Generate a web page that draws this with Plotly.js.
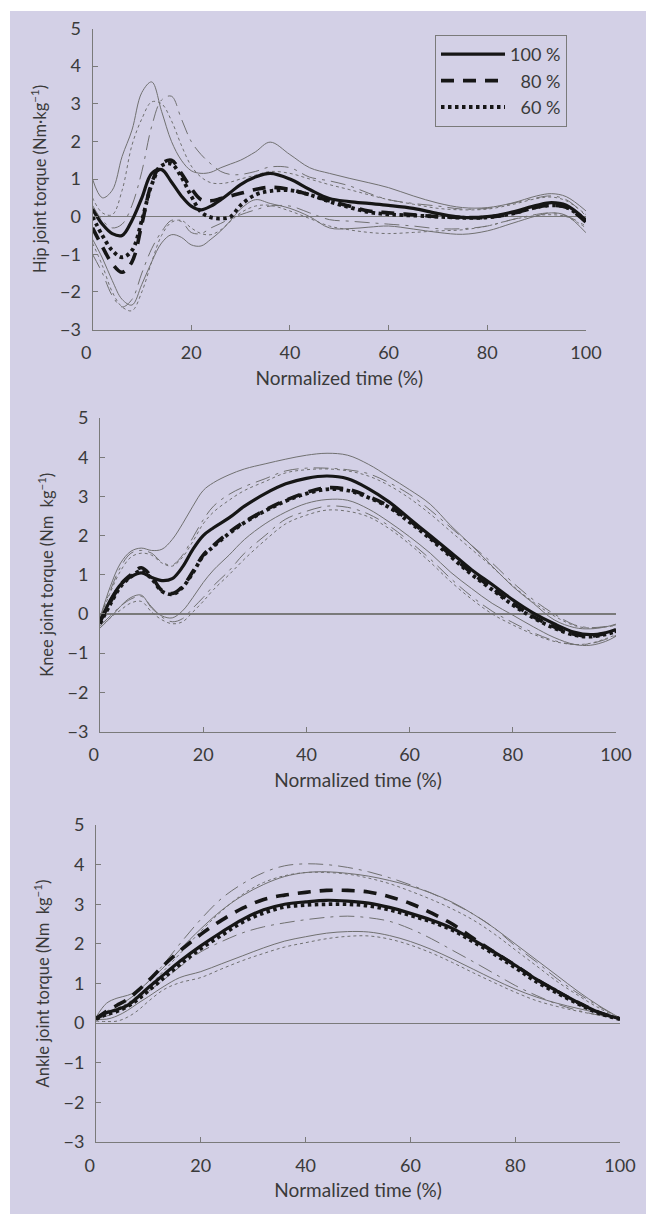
<!DOCTYPE html>
<html>
<head>
<meta charset="utf-8">
<script src="https://cdn.plot.ly/plotly-3.0.1.min.js"></script>
<style>
html,body{margin:0;padding:0;background:#fff;}
#chart{width:646px;height:1214px;}
</style>
</head>
<body>
<div id="chart"></div>
<script>
// ---------- DATA ----------
var legendNames = ['100 %', '\u200780 %', '\u200760 %'];
var xTickVals = [0, 20, 40, 60, 80, 100];
var xTickText = ['0\u2007\u2009', '20', '40', '60', '80', '100'];
var yTickVals = [-3, -2, -1, 0, 1, 2, 3, 4, 5];

// Hip joint torque
var hipX = [0,2,4,6,8,10,12,14,16,18,20,22,24,26,28,30,33,36,40,44,48,52,56,60,65,70,75,80,85,90,93,96,100];
var hip100 = [0.2,-0.2,-0.45,-0.5,-0.1,0.5,1.15,1.25,0.92,0.55,0.28,0.18,0.28,0.45,0.65,0.85,1.05,1.15,1.0,0.72,0.48,0.4,0.35,0.3,0.22,0.08,-0.02,0.0,0.12,0.3,0.37,0.3,-0.1];
var hip80  = [-0.3,-0.8,-1.25,-1.48,-1.2,-0.2,0.9,1.4,1.5,1.15,0.75,0.45,0.42,0.48,0.55,0.62,0.72,0.78,0.72,0.58,0.42,0.28,0.15,0.1,0.05,0.0,-0.02,-0.02,0.08,0.25,0.3,0.25,-0.15];
var hip60  = [0.0,-0.5,-0.9,-1.08,-0.9,-0.1,0.85,1.35,1.4,1.05,0.55,0.12,-0.02,-0.05,0.0,0.3,0.58,0.68,0.7,0.58,0.4,0.25,0.12,0.06,0.03,0.0,-0.03,-0.02,0.08,0.25,0.3,0.25,-0.1];
var hip100Up = [1.0,0.5,0.7,1.6,2.3,3.3,3.58,2.8,2.0,1.5,1.22,1.15,1.18,1.3,1.4,1.5,1.72,1.98,1.65,1.3,1.15,1.02,0.9,0.77,0.55,0.36,0.24,0.24,0.36,0.55,0.61,0.53,0.15];
var hip100Lo = [-0.6,-1.1,-1.7,-2.2,-2.35,-1.8,-1.2,-0.7,-0.48,-0.55,-0.75,-0.78,-0.6,-0.38,-0.1,0.2,0.45,0.35,0.22,0.0,-0.3,-0.32,-0.28,-0.25,-0.33,-0.42,-0.47,-0.38,-0.18,0.02,0.1,0.03,-0.43];
var hip80Up  = [0.3,-0.1,-0.3,-0.2,0.3,1.2,2.4,3.1,3.2,2.6,2.0,1.65,1.4,1.2,1.12,1.12,1.2,1.32,1.3,1.05,0.95,0.82,0.62,0.45,0.35,0.28,0.2,0.22,0.35,0.5,0.55,0.45,0.02];
var hip80Lo  = [-1.0,-1.5,-2.1,-2.4,-2.2,-1.5,-0.85,-0.4,-0.1,-0.13,-0.42,-0.45,-0.3,-0.18,-0.05,0.05,0.18,0.28,0.28,0.1,-0.08,-0.12,-0.16,-0.2,-0.25,-0.32,-0.32,-0.25,-0.08,0.06,0.1,0.02,-0.25];
var hip60Up  = [0.5,0.1,0.05,0.7,1.9,2.6,3.05,3.0,2.55,1.9,1.35,1.05,0.9,0.88,0.92,1.0,1.1,1.2,1.15,1.0,0.85,0.72,0.58,0.45,0.33,0.22,0.18,0.2,0.32,0.48,0.52,0.42,0.05];
var hip60Lo  = [-0.7,-1.3,-2.0,-2.4,-2.5,-2.0,-1.2,-0.5,-0.15,-0.1,-0.3,-0.45,-0.48,-0.35,-0.12,0.1,0.28,0.3,0.15,-0.05,-0.25,-0.35,-0.42,-0.45,-0.42,-0.38,-0.35,-0.25,-0.08,0.03,0.05,0.0,-0.3];

// Knee joint torque
var kneeX = [0,2,4,6,8,10,12,14,16,18,20,22,25,28,32,36,40,44,48,52,56,60,64,68,72,76,80,84,88,92,95,98,100];
var knee100 = [-0.2,0.35,0.75,0.95,1.05,0.93,0.85,0.9,1.2,1.65,2.0,2.2,2.45,2.75,3.07,3.32,3.46,3.52,3.45,3.2,2.86,2.43,2.0,1.57,1.13,0.75,0.36,0.02,-0.25,-0.47,-0.53,-0.48,-0.4];
var knee80  = [-0.2,0.3,0.75,1.0,1.18,0.95,0.6,0.52,0.7,1.08,1.5,1.75,2.08,2.35,2.65,2.9,3.1,3.22,3.18,3.0,2.75,2.38,1.96,1.5,1.05,0.66,0.27,-0.07,-0.33,-0.52,-0.57,-0.5,-0.44];
var knee60  = [-0.25,0.25,0.7,0.95,1.1,0.9,0.58,0.5,0.68,1.05,1.48,1.72,2.05,2.33,2.63,2.88,3.07,3.18,3.15,2.97,2.72,2.34,1.92,1.46,1.01,0.62,0.23,-0.1,-0.36,-0.54,-0.58,-0.52,-0.45];
var knee100Up = [-0.1,0.7,1.3,1.6,1.68,1.62,1.65,1.9,2.3,2.75,3.15,3.35,3.55,3.7,3.83,3.95,4.05,4.1,4.05,3.82,3.5,3.17,2.8,2.25,1.75,1.22,0.7,0.27,-0.15,-0.35,-0.38,-0.33,-0.26];
var knee100Lo = [-0.36,-0.1,0.2,0.42,0.48,0.15,-0.05,-0.1,0.08,0.42,0.8,1.12,1.5,1.9,2.3,2.6,2.82,2.92,2.9,2.68,2.35,1.97,1.55,1.06,0.65,0.27,-0.03,-0.33,-0.6,-0.78,-0.8,-0.7,-0.57];
var knee80Up  = [-0.1,0.6,1.2,1.55,1.62,1.55,1.32,1.25,1.5,1.95,2.4,2.75,3.05,3.25,3.45,3.65,3.72,3.72,3.68,3.58,3.35,3.05,2.65,2.2,1.75,1.3,0.8,0.36,0.0,-0.28,-0.35,-0.32,-0.28];
var knee80Lo  = [-0.3,-0.05,0.2,0.38,0.45,0.18,-0.08,-0.2,-0.12,0.15,0.42,0.72,1.1,1.55,2.0,2.42,2.62,2.75,2.72,2.55,2.25,1.85,1.4,0.9,0.45,0.07,-0.22,-0.48,-0.68,-0.78,-0.76,-0.65,-0.55];
var knee60Up  = [-0.12,0.55,1.1,1.45,1.55,1.5,1.3,1.22,1.45,1.85,2.3,2.6,2.9,3.15,3.38,3.6,3.68,3.7,3.65,3.52,3.28,2.95,2.55,2.1,1.65,1.2,0.72,0.3,-0.05,-0.3,-0.36,-0.33,-0.3];
var knee60Lo  = [-0.35,-0.1,0.1,0.28,0.32,0.05,-0.15,-0.25,-0.2,0.05,0.32,0.62,1.0,1.4,1.88,2.3,2.52,2.65,2.62,2.48,2.18,1.78,1.32,0.82,0.38,0.0,-0.28,-0.52,-0.7,-0.78,-0.75,-0.63,-0.53];

// Ankle joint torque
var ankleX = [0,2,4,6,8,10,13,16,20,24,28,32,36,40,44,48,52,56,60,64,68,72,76,80,84,88,92,96,100];
var ankle100 = [0.11,0.26,0.34,0.45,0.66,0.9,1.23,1.56,1.95,2.3,2.62,2.86,3.0,3.06,3.1,3.08,3.03,2.92,2.77,2.6,2.39,2.1,1.79,1.46,1.11,0.81,0.52,0.27,0.11];
var ankle80  = [0.11,0.3,0.45,0.6,0.82,1.07,1.47,1.82,2.24,2.6,2.9,3.12,3.23,3.3,3.35,3.35,3.31,3.19,3.02,2.78,2.5,2.14,1.79,1.46,1.11,0.8,0.52,0.27,0.11];
var ankle60  = [0.1,0.22,0.3,0.42,0.6,0.82,1.15,1.48,1.88,2.22,2.55,2.78,2.93,2.98,3.0,3.0,2.96,2.86,2.72,2.56,2.35,2.05,1.74,1.4,1.05,0.76,0.49,0.25,0.1];
var ankle100Up = [0.15,0.5,0.63,0.7,0.82,1.05,1.42,1.85,2.38,2.85,3.22,3.5,3.7,3.8,3.82,3.78,3.71,3.6,3.46,3.28,3.05,2.75,2.4,2.0,1.6,1.2,0.8,0.44,0.13];
var ankle100Lo = [0.1,0.1,0.18,0.32,0.5,0.67,0.93,1.15,1.3,1.5,1.7,1.9,2.07,2.18,2.27,2.31,2.3,2.21,2.06,1.86,1.62,1.36,1.1,0.86,0.66,0.5,0.37,0.25,0.12];
var ankle80Up  = [0.15,0.3,0.42,0.58,0.78,1.05,1.5,2.0,2.62,3.15,3.52,3.8,3.97,4.02,4.0,3.93,3.82,3.67,3.49,3.28,3.03,2.75,2.4,1.95,1.55,1.12,0.75,0.42,0.13];
var ankle80Lo  = [0.1,0.18,0.26,0.42,0.6,0.8,1.1,1.42,1.8,2.06,2.28,2.43,2.53,2.61,2.67,2.7,2.66,2.57,2.38,2.13,1.84,1.55,1.25,0.95,0.7,0.48,0.32,0.2,0.12];
var ankle60Up  = [0.15,0.28,0.38,0.5,0.7,0.93,1.33,1.75,2.32,2.83,3.25,3.55,3.72,3.8,3.8,3.76,3.66,3.52,3.33,3.12,2.88,2.6,2.25,1.85,1.45,1.05,0.7,0.38,0.12];
var ankle60Lo  = [0.05,0.04,0.05,0.15,0.32,0.55,0.85,1.02,1.15,1.37,1.58,1.76,1.92,2.03,2.13,2.19,2.2,2.12,1.97,1.77,1.53,1.27,1.02,0.78,0.57,0.42,0.3,0.2,0.1];

var yTitles = ['Hip joint torque (Nm\u00b7kg<sup>\u22121</sup>)', 'Knee joint torque (Nm\u2002kg<sup>\u22121</sup>)', 'Ankle joint torque (Nm\u2002kg<sup>\u22121</sup>)'];
var xTitle = 'Normalized time (%)';

// ---------- STYLES ----------
var meanColor = '#161616';
var sdColor = '#707070';
var meanDash = ['solid', '13px,9px', '3.5px,3.5px'];
var meanWidth = [3.2, 3.6, 3.8];
var sdDash = ['solid', 'longdashdot', 'dot'];

var panels = [
  {x: hipX, means: [hip100, hip80, hip60], sds: [[hip100Up, hip100Lo], [hip80Up, hip80Lo], [hip60Up, hip60Lo]]},
  {x: kneeX, means: [knee100, knee80, knee60], sds: [[knee100Up, knee100Lo], [knee80Up, knee80Lo], [knee60Up, knee60Lo]]},
  {x: ankleX, means: [ankle100, ankle80, ankle60], sds: [[ankle100Up, ankle100Lo], [ankle80Up, ankle80Lo], [ankle60Up, ankle60Lo]]}
];

var traces = [];
panels.forEach(function (p, pi) {
  var xa = pi === 0 ? 'x' : 'x' + (pi + 1);
  var ya = pi === 0 ? 'y' : 'y' + (pi + 1);
  for (var g = 0; g < 3; g++) {
    p.sds[g].forEach(function (arr) {
      traces.push({x: p.x, y: arr, xaxis: xa, yaxis: ya, type: 'scatter', mode: 'lines',
        line: {color: sdColor, width: 1, dash: sdDash[g], shape: 'spline', smoothing: 1},
        showlegend: false, hoverinfo: 'skip'});
    });
  }
  for (var g2 = 2; g2 >= 0; g2--) {
    traces.push({x: p.x, y: p.means[g2], xaxis: xa, yaxis: ya, type: 'scatter', mode: 'lines',
      name: legendNames[g2], legendrank: g2 + 1,
      line: {color: meanColor, width: meanWidth[g2], dash: meanDash[g2], shape: 'spline', smoothing: 1},
      showlegend: pi === 0});
  }
});

var W = 646, H = 1214;
var fontFam = 'Lato, "Open Sans", sans-serif';
var txtColor = '#3a3a3a';
var axColor = '#7a7a7a';

function xAxis(px0, px1, anchor) {
  return {domain: [px0 / W, px1 / W], range: [0, 100], anchor: anchor,
    tickvals: xTickVals, ticktext: xTickText, ticks: 'inside', ticklen: 5, tickcolor: axColor, tickwidth: 1,
    ticklabelstandoff: 7,
    showline: true, linecolor: axColor, linewidth: 1, showgrid: false, zeroline: false,
    tickfont: {family: fontFam, size: 18, color: txtColor},
    title: {text: xTitle, font: {family: fontFam, size: 19, color: txtColor}, standoff: 9},
    fixedrange: true};
}
function yAxis(pyTop, pyBot, anchor, t) {
  return {domain: [1 - pyBot / H, 1 - pyTop / H], range: [-3, 5], anchor: anchor,
    tickvals: yTickVals, ticks: 'inside', ticklen: 5, tickcolor: axColor, tickwidth: 1,
    ticklabelstandoff: 7,
    showline: true, linecolor: axColor, linewidth: 1, showgrid: false,
    zeroline: true, zerolinecolor: axColor, zerolinewidth: 1.2,
    tickfont: {family: fontFam, size: 18, color: txtColor},
    title: {text: t, font: {family: fontFam, size: 16.5, color: txtColor}, standoff: 9},
    fixedrange: true};
}

var layout = {
  width: W, height: H,
  margin: {l: 0, r: 0, t: 0, b: 0},
  paper_bgcolor: '#ffffff',
  plot_bgcolor: 'rgba(0,0,0,0)',
  font: {family: fontFam, color: txtColor},
  xaxis: xAxis(92.5, 586, 'y'),
  yaxis: yAxis(28.5, 329.5, 'x', yTitles[0]),
  xaxis2: xAxis(100, 616, 'y2'),
  yaxis2: yAxis(418, 731.5, 'x2', yTitles[1]),
  xaxis3: xAxis(96, 620, 'y3'),
  yaxis3: yAxis(825, 1142, 'x3', yTitles[2]),
  showlegend: true,
  legend: {x: 435 / W, y: 1 - 35 / H, xanchor: 'left', yanchor: 'top',
    bgcolor: 'rgba(0,0,0,0)', bordercolor: axColor, borderwidth: 1,
    itemwidth: 64, font: {family: fontFam, size: 18, color: txtColor}},
  shapes: [{type: 'rect', xref: 'paper', yref: 'paper', x0: 10 / W, x1: 1, y0: 0, y1: 1 - 11 / H,
    fillcolor: '#d3d0e6', line: {width: 0}, layer: 'below'}]
};

Plotly.newPlot('chart', traces, layout, {displayModeBar: false, staticPlot: true});
</script>
</body>
</html>
